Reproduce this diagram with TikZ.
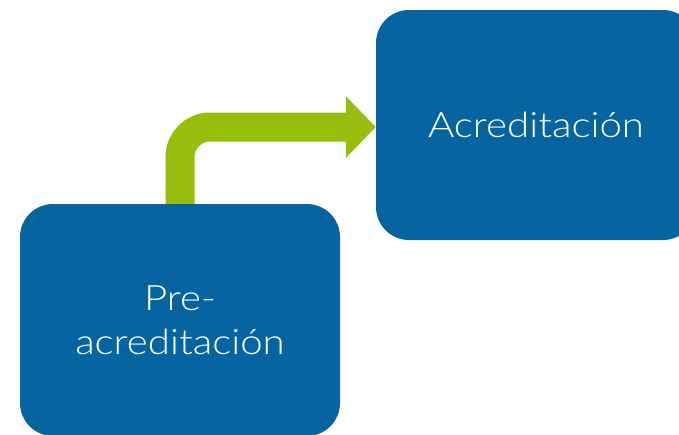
\documentclass[tikz,border=0pt]{standalone}
\usepackage{fontspec}
\setmainfont{Lato}[UprightFont=* Light, FakeStretch=1.15]
\usetikzlibrary{arrows.meta}
\definecolor{boxblue}{RGB}{6,101,160}
\definecolor{arrowgreen}{RGB}{151,190,13}
\tikzset{
  stagebox/.style={fill=boxblue, draw=none, rounded corners=33pt, text=white,
    minimum width=320pt, align=center, inner sep=0pt,
    font=\fontsize{35}{44}\selectfont},
  flowarrow/.style={draw=arrowgreen, line width=29pt, rounded corners=30pt,
    -{Triangle[length=30pt,width=60pt,color=arrowgreen]}}
}
\begin{document}
\begin{tikzpicture}[x=1pt,y=-1pt]
  \useasboundingbox (0,0) rectangle (679,434);
  \clip (0,0) rectangle (679,434);
  \node[stagebox, minimum height=232pt] (pre) at (180,320) {Pre-\\acreditación};
  \node[stagebox, minimum height=230pt] (acr) at (536,125) {Acreditación};
  \draw[flowarrow] (pre.north) |- ([yshift=-2pt]acr.west);
\end{tikzpicture}
\end{document}
